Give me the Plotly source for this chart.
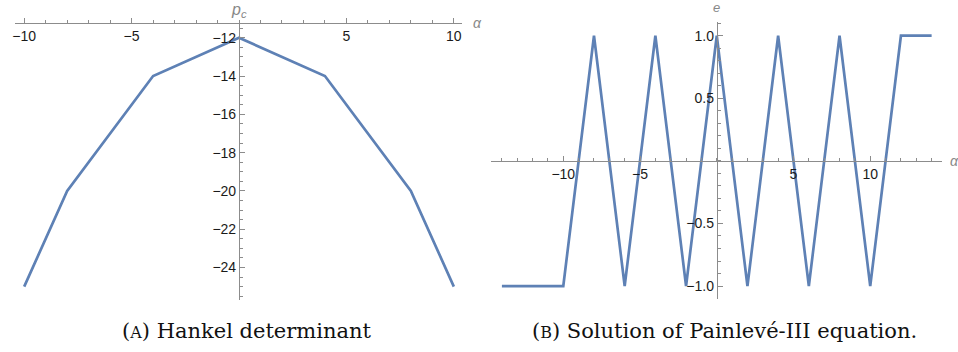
import numpy as np
import plotly.graph_objects as go

W, H = 958, 352

# ---- data ----
alpha_a = [-10, -8, -4, 0, 4, 8, 10]
pc_a = [-25, -20, -14, -12, -14, -20, -25]

alpha_b = [-14, -10, -8, -6, -4, -2, 0, 2, 4, 6, 8, 10, 12, 14]
e_b = [-1, -1, 1, -1, 1, -1, 1, -1, 1, -1, 1, -1, 1, 1]

xa_ticks = [-10, -5, 5, 10]
ya_ticks = [-24, -22, -20, -18, -16, -14, -12]
xb_ticks = [-10, -5, 5, 10]
yb_ticks = [-1.0, -0.5, 0.5, 1.0]
yb_ticktext = ["−1.0", "−0.5", "0.5", "1.0"]

LINE = "#5E81B5"
AX = "#8c8c8c"
TICKFONT = dict(family="Liberation Sans, Arial, sans-serif", size=14, color="#1a1a1a")


def fx(p):
    return p / W


def fy(p):
    return 1 - p / H


fig = go.Figure()
fig.add_trace(go.Scatter(x=alpha_a, y=pc_a, mode="lines", line=dict(color=LINE, width=2.7),
                         xaxis="x", yaxis="y", showlegend=False, hoverinfo="skip"))
fig.add_trace(go.Scatter(x=alpha_b, y=e_b, mode="lines", line=dict(color=LINE, width=2.7),
                         xaxis="x2", yaxis="y2", showlegend=False, hoverinfo="skip"))

common = dict(showline=True, linecolor=AX, linewidth=1, ticks="inside", tickcolor=AX,
              tickwidth=1, ticklen=5, showgrid=False, zeroline=False, tickfont=TICKFONT,
              tickmode="array", fixedrange=True)


def minor(vals):
    return dict(tickmode="array", tickvals=list(vals), ticks="inside", ticklen=3,
                tickcolor=AX, tickwidth=1, showgrid=False)


fig.update_layout(
    width=W, height=H, margin=dict(l=0, r=0, t=0, b=0),
    paper_bgcolor="white", plot_bgcolor="white",
    xaxis=dict(common, domain=[fx(12), fx(460)], range=[-10.43, 10.36],
               anchor="free", position=fy(23), side="bottom",
               tickvals=xa_ticks, minor=minor(np.arange(-10, 11, 1))),
    yaxis=dict(common, domain=[fy(300), fy(23)], range=[-25.70, -11.23],
               anchor="free", position=fx(236.7), side="left",
               tickvals=ya_ticks, minor=minor(np.arange(-25.5, -11.0, 0.5))),
    xaxis2=dict(common, domain=[fx(490), fx(941.7)], range=[-14.68, 14.66],
                anchor="free", position=fy(160.85), side="bottom",
                tickvals=xb_ticks, minor=minor(np.arange(-14, 15, 1))),
    yaxis2=dict(common, domain=[fy(299.3), fy(21.7)], range=[-1.106, 1.112],
                anchor="free", position=fx(716), side="left",
                tickvals=yb_ticks, ticktext=yb_ticktext,
                minor=minor(np.round(np.arange(-1.1, 1.11, 0.1), 2))),
)

lab = dict(family="Liberation Sans, Arial, sans-serif", size=14, color="#888")
ann = [
    dict(text="<i>α</i>", x=fx(469), y=fy(23), xanchor="left", yanchor="middle", font=lab),
    dict(text="<i>p<sub>c</sub></i>", x=fx(236.7), y=fy(10), xanchor="center", yanchor="middle",
         font=dict(lab, size=16)),
    dict(text="<i>e</i>", x=fx(716), y=fy(8), xanchor="center", yanchor="middle",
         font=dict(lab, size=13)),
    dict(text="<i>α</i>", x=fx(948), y=fy(161), xanchor="left", yanchor="middle", font=lab),
]
capfont = dict(family="DejaVu Serif, serif", size=21, color="#111")
ann.append(dict(text='(<span style="font-size:16px">A</span>) Hankel determinant',
                x=fx(245), y=fy(331), xanchor="center", yanchor="middle", font=capfont))
ann.append(dict(text='(<span style="font-size:16px">B</span>) Solution of Painlevé-III equation.',
                x=fx(724), y=fy(331), xanchor="center", yanchor="middle", font=capfont))
for a in ann:
    a.update(xref="paper", yref="paper", showarrow=False)
fig.update_layout(annotations=ann)

fig.write_html("out.html", config={"displayModeBar": False},
               post_script="document.body.style.margin='0px';")
